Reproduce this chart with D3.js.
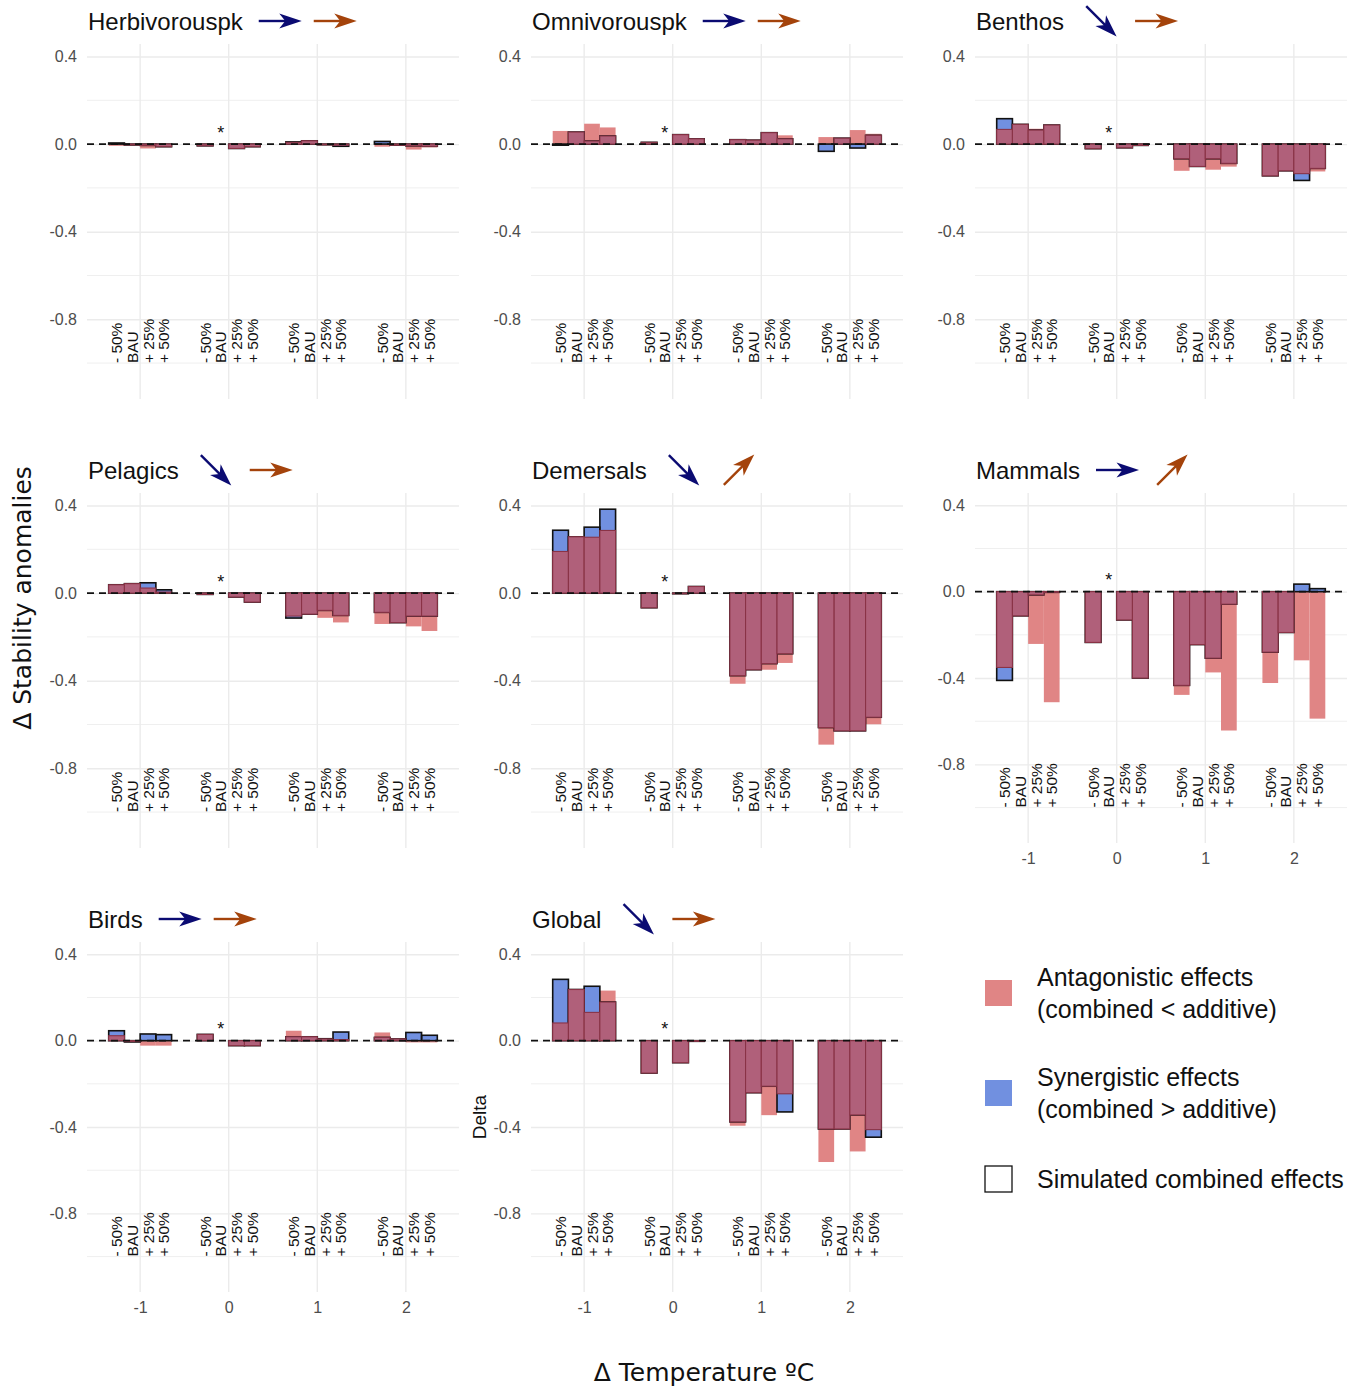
<!DOCTYPE html>
<html>
<head>
<meta charset="utf-8">
<script src="https://cdn.jsdelivr.net/npm/d3@7"></script>
<style>
  html, body { margin: 0; padding: 0; background: #ffffff; }
  svg { display: block; }
</style>
</head>
<body>
<script>
// ---------------- DATA ----------------
const panelNames = ["Herbivorouspk", "Omnivorouspk", "Benthos", "Pelagics", "Demersals", "Mammals", "Birds", "Global"];
const temperatures = [-1, 0, 1, 2];
const temperatureLabels = ["-1", "0", "1", "2"];
const scenarios = ["- 50%", "BAU", "+ 25%", "+ 50%"];
const yTicks = [0.4, 0.0, -0.4, -0.8];
const yTickLabels = ["0.4", "0.0", "-0.4", "-0.8"];
const yMinorTicks = [0.2, -0.2, -0.6, -1.0];

// trend arrows after each title (blue = first driver, brown = second driver)
const blueTrend = ["right", "right", "down", "down", "down", "right", "right", "down"];
const brownTrend = ["right", "right", "right", "right", "up", "up", "right", "right"];

// values per temperature group [-1, 0, 1, 2], each with [-50%, BAU, +25%, +50%]
const herbivorouspkAdditive = [[-0.008, -0.005, -0.02, -0.012], [-0.008, 0, -0.02, -0.012], [0.008, 0.015, -0.005, -0.005], [-0.012, -0.005, -0.025, -0.015]];
const herbivorouspkCombined = [[0.005, -0.004, -0.006, -0.012], [-0.008, 0, -0.02, -0.012], [0.01, 0.015, -0.003, -0.01], [0.012, -0.005, -0.008, -0.01]];

const omnivorouspkAdditive = [[0.06, 0.055, 0.093, 0.076], [0.008, 0, 0.043, 0.024], [0.022, 0.018, 0.055, 0.04], [0.032, 0.027, 0.064, 0.047]];
const omnivorouspkCombined = [[-0.005, 0.055, 0.014, 0.037], [0.008, 0, 0.043, 0.024], [0.02, 0.018, 0.052, 0.024], [-0.033, 0.027, -0.018, 0.04]];

const benthosAdditive = [[0.067, 0.09, 0.07, 0.087], [-0.021, 0, -0.017, -0.006], [-0.122, -0.102, -0.117, -0.103], [-0.145, -0.122, -0.135, -0.125]];
const benthosCombined = [[0.116, 0.09, 0.064, 0.087], [-0.021, 0, -0.017, -0.006], [-0.067, -0.102, -0.067, -0.088], [-0.145, -0.122, -0.166, -0.111]];

const pelagicsAdditive = [[0.038, 0.043, 0.023, 0.005], [-0.006, 0, -0.018, -0.041], [-0.105, -0.096, -0.113, -0.134], [-0.141, -0.135, -0.152, -0.173]];
const pelagicsCombined = [[0.038, 0.043, 0.047, 0.015], [-0.006, 0, -0.018, -0.041], [-0.114, -0.096, -0.079, -0.102], [-0.088, -0.135, -0.105, -0.105]];

const demersalsAdditive = [[0.19, 0.257, 0.255, 0.286], [-0.067, 0, -0.003, 0.03], [-0.414, -0.35, -0.35, -0.319], [-0.692, -0.629, -0.629, -0.599]];
const demersalsCombined = [[0.287, 0.257, 0.301, 0.383], [-0.067, 0, -0.003, 0.03], [-0.377, -0.35, -0.322, -0.277], [-0.614, -0.629, -0.629, -0.567]];

const mammalsAdditive = [[-0.351, -0.112, -0.242, -0.512], [-0.235, 0, -0.131, -0.4], [-0.478, -0.245, -0.374, -0.643], [-0.423, -0.189, -0.318, -0.588]];
const mammalsCombined = [[-0.411, -0.112, -0.015, -0.003], [-0.235, 0, -0.131, -0.4], [-0.434, -0.245, -0.308, -0.058], [-0.28, -0.189, 0.035, 0.014]];

const birdsAdditive = [[0.023, -0.004, -0.023, -0.023], [0.029, 0, -0.023, -0.023], [0.046, 0.018, 0.008, 0.005], [0.038, 0.008, -0.008, -0.008]];
const birdsCombined = [[0.046, -0.006, 0.031, 0.028], [0.029, 0, -0.023, -0.023], [0.018, 0.018, 0.009, 0.04], [0.015, 0.008, 0.038, 0.025]];

const globalAdditive = [[0.082, 0.237, 0.131, 0.232], [-0.15, 0, -0.102, -0.003], [-0.394, -0.241, -0.345, -0.246], [-0.562, -0.409, -0.513, -0.412]];
const globalCombined = [[0.284, 0.237, 0.252, 0.179], [-0.15, 0, -0.102, -0.003], [-0.376, -0.241, -0.211, -0.33], [-0.409, -0.409, -0.344, -0.447]];

const additiveSets = [herbivorouspkAdditive, omnivorouspkAdditive, benthosAdditive, pelagicsAdditive, demersalsAdditive, mammalsAdditive, birdsAdditive, globalAdditive];
const combinedSets = [herbivorouspkCombined, omnivorouspkCombined, benthosCombined, pelagicsCombined, demersalsCombined, mammalsCombined, birdsCombined, globalCombined];

const legendLabels = [["Antagonistic effects", "(combined < additive)"], ["Synergistic effects", "(combined > additive)"], ["Simulated combined effects"]];

// ---------------- STYLE / LAYOUT ----------------
const W = 1367, H = 1388;
const colLeft = [87, 531, 975];
const rowTop = [44, 493, 942];
const panelW = 372;
const pink = "#E08585", blue = "#7190E0", maroon = "#B0607A", maroonEdge = "#8A3346";
const navy = "#0B0B72", brown = "#A4430B";
const sans = "'Liberation Sans', Arial, Helvetica, sans-serif";
const groupWidth = 0.71;
const barW = groupWidth / scenarios.length;

const svg = d3.select("body").append("svg").attr("width", W).attr("height", H)
  .style("font-family", sans);

function drawArrow(g, cx, cy, dir, color) {
  const ang = dir === "right" ? 0 : (dir === "down" ? 45 : -45);
  const a = g.append("g").attr("transform", `translate(${cx},${cy}) rotate(${ang})`);
  a.append("line").attr("x1", -21).attr("y1", 0).attr("x2", 8).attr("y2", 0)
    .attr("stroke", color).attr("stroke-width", 2.4);
  a.append("path").attr("d", "M22,0 L-0.5,-7.5 L5.5,0 L-0.5,7.5 Z").attr("fill", color);
}

panelNames.forEach((name, i) => {
  const col = i % 3, row = Math.floor(i / 3);
  const left = colLeft[col], top = rowTop[row];
  const isBottom = (i >= 5);
  const h = isBottom ? 350 : 355;
  const x = d3.scaleLinear().domain([-1.6, 2.6]).range([left, left + panelW]);
  const y = d3.scaleLinear().domain([-1.164, 0.457]).range([top + h, top]);
  const g = svg.append("g");

  // minor horizontal grid
  g.selectAll(".minor").data(yMinorTicks).enter().append("line")
    .attr("x1", left).attr("x2", left + panelW)
    .attr("y1", d => y(d)).attr("y2", d => y(d))
    .attr("stroke", "#EFEFEF").attr("stroke-width", 1);
  // major horizontal grid via axis
  const ya = g.append("g").attr("transform", `translate(${left},0)`)
    .call(d3.axisLeft(y).tickValues(yTicks).tickSize(-panelW).tickPadding(10)
      .tickFormat((d, k) => yTickLabels[k]));
  ya.select(".domain").remove();
  ya.selectAll(".tick line").attr("stroke", "#EBEBEB").attr("stroke-width", 1.4);
  ya.selectAll(".tick text").attr("fill", "#4D4D4D").style("font-size", "16px").style("font-family", sans);
  // vertical grid
  g.selectAll(".vgrid").data(temperatures).enter().append("line")
    .attr("x1", d => x(d)).attr("x2", d => x(d))
    .attr("y1", top).attr("y2", top + h)
    .attr("stroke", "#EBEBEB").attr("stroke-width", 1.4);

  // x tick labels for bottom panels
  if (isBottom) {
    const xa = g.append("g").attr("transform", `translate(0,${top + h})`)
      .call(d3.axisBottom(x).tickValues(temperatures).tickSize(0).tickPadding(10)
        .tickFormat((d, k) => temperatureLabels[k]));
    xa.select(".domain").remove();
    xa.selectAll(".tick text").attr("fill", "#4D4D4D").style("font-size", "16px").style("font-family", sans);
  }

  // bar data
  const bars = [];
  temperatures.forEach((t, gi) => {
    scenarios.forEach((s, j) => {
      const A = additiveSets[i][gi][j], C = combinedSets[i][gi][j];
      const overlap = (A * C > 0) ? Math.sign(A) * Math.min(Math.abs(A), Math.abs(C)) : 0;
      bars.push({ t, j, A, C, overlap, x0: t - groupWidth / 2 + j * barW });
    });
  });
  const rect = (sel, key) => sel
    .attr("x", d => x(d.x0)).attr("width", d => x(d.x0 + barW) - x(d.x0))
    .attr("y", d => y(Math.max(0, d[key]))).attr("height", d => Math.abs(y(d[key]) - y(0)));

  g.selectAll(".add").data(bars).enter().append("rect").call(rect, "A").attr("fill", pink);
  g.selectAll(".comb").data(bars).enter().append("rect").call(rect, "C").attr("fill", blue);
  g.selectAll(".outline").data(bars).enter().append("rect").call(rect, "C")
    .attr("fill", "none").attr("stroke", "#111").attr("stroke-width", 1.6);
  g.selectAll(".ovl").data(bars.filter(d => d.overlap !== 0)).enter().append("rect").call(rect, "overlap")
    .attr("fill", maroon).attr("stroke", maroonEdge).attr("stroke-width", 1.1);

  // zero line
  g.append("line").attr("x1", left).attr("x2", left + panelW).attr("y1", y(0)).attr("y2", y(0))
    .attr("stroke", "#111").attr("stroke-width", 1.7).attr("stroke-dasharray", "7,5");

  // baseline marker (*) on BAU at 0 °C
  g.append("text").attr("x", x(0 - groupWidth / 2 + 1.5 * barW)).attr("y", y(0.025))
    .attr("text-anchor", "middle").style("font-size", "18px").attr("fill", "#111").text("*");

  // scenario labels (rotated)
  temperatures.forEach(t => {
    scenarios.forEach((s, j) => {
      const cx = x(t - groupWidth / 2 + (j + 0.5) * barW), cy = y(-1.0);
      g.append("text").attr("transform", `translate(${cx},${cy}) rotate(-90)`)
        .attr("text-anchor", "start").attr("dominant-baseline", "central")
        .style("font-size", "15.5px").attr("fill", "#111").text(s);
    });
  });

  // title + arrows
  const title = g.append("text").attr("x", left + 1).attr("y", top - 14)
    .style("font-size", "24px").attr("fill", "#111").text(name);
  const tEnd = left + 1 + title.node().getComputedTextLength();
  const ay = top - 23;
  const bx = tEnd + 37;
  drawArrow(g, bx, ay, blueTrend[i], navy);
  drawArrow(g, bx + 55, ay, brownTrend[i], brown);
});

// leftover y title of the Global panel
svg.append("text").attr("transform", "translate(479,1117) rotate(-90)")
  .attr("text-anchor", "middle").attr("dominant-baseline", "central")
  .style("font-size", "19px").attr("fill", "#111").text("Delta");

// overall axis titles
svg.append("text").attr("transform", "translate(22,598) rotate(-90)")
  .attr("text-anchor", "middle").attr("dominant-baseline", "central")
  .style("font-family", "'DejaVu Sans', Verdana, sans-serif").style("font-size", "25px")
  .attr("fill", "#111").text("Δ Stability anomalies");
svg.append("text").attr("x", 704).attr("y", 1372)
  .attr("text-anchor", "middle").attr("dominant-baseline", "central")
  .style("font-family", "'DejaVu Sans', Verdana, sans-serif").style("font-size", "25px")
  .attr("fill", "#111").text("Δ Temperature ºC");

// legend
const legendFills = [pink, blue, "#ffffff"];
const legendY = [993, 1093, 1179];
legendLabels.forEach((lines, k) => {
  const cy = legendY[k];
  svg.append("rect").attr("x", 985).attr("y", cy - 13).attr("width", 27).attr("height", 26)
    .attr("fill", legendFills[k])
    .attr("stroke", k === 2 ? "#111" : "none").attr("stroke-width", 1.3);
  lines.forEach((ln, m) => {
    const off = lines.length === 1 ? 0 : (m === 0 ? -16 : 16);
    svg.append("text").attr("x", 1037).attr("y", cy + off).attr("dominant-baseline", "central")
      .style("font-size", "25px").attr("fill", "#111").text(ln);
  });
});
</script>
</body>
</html>
